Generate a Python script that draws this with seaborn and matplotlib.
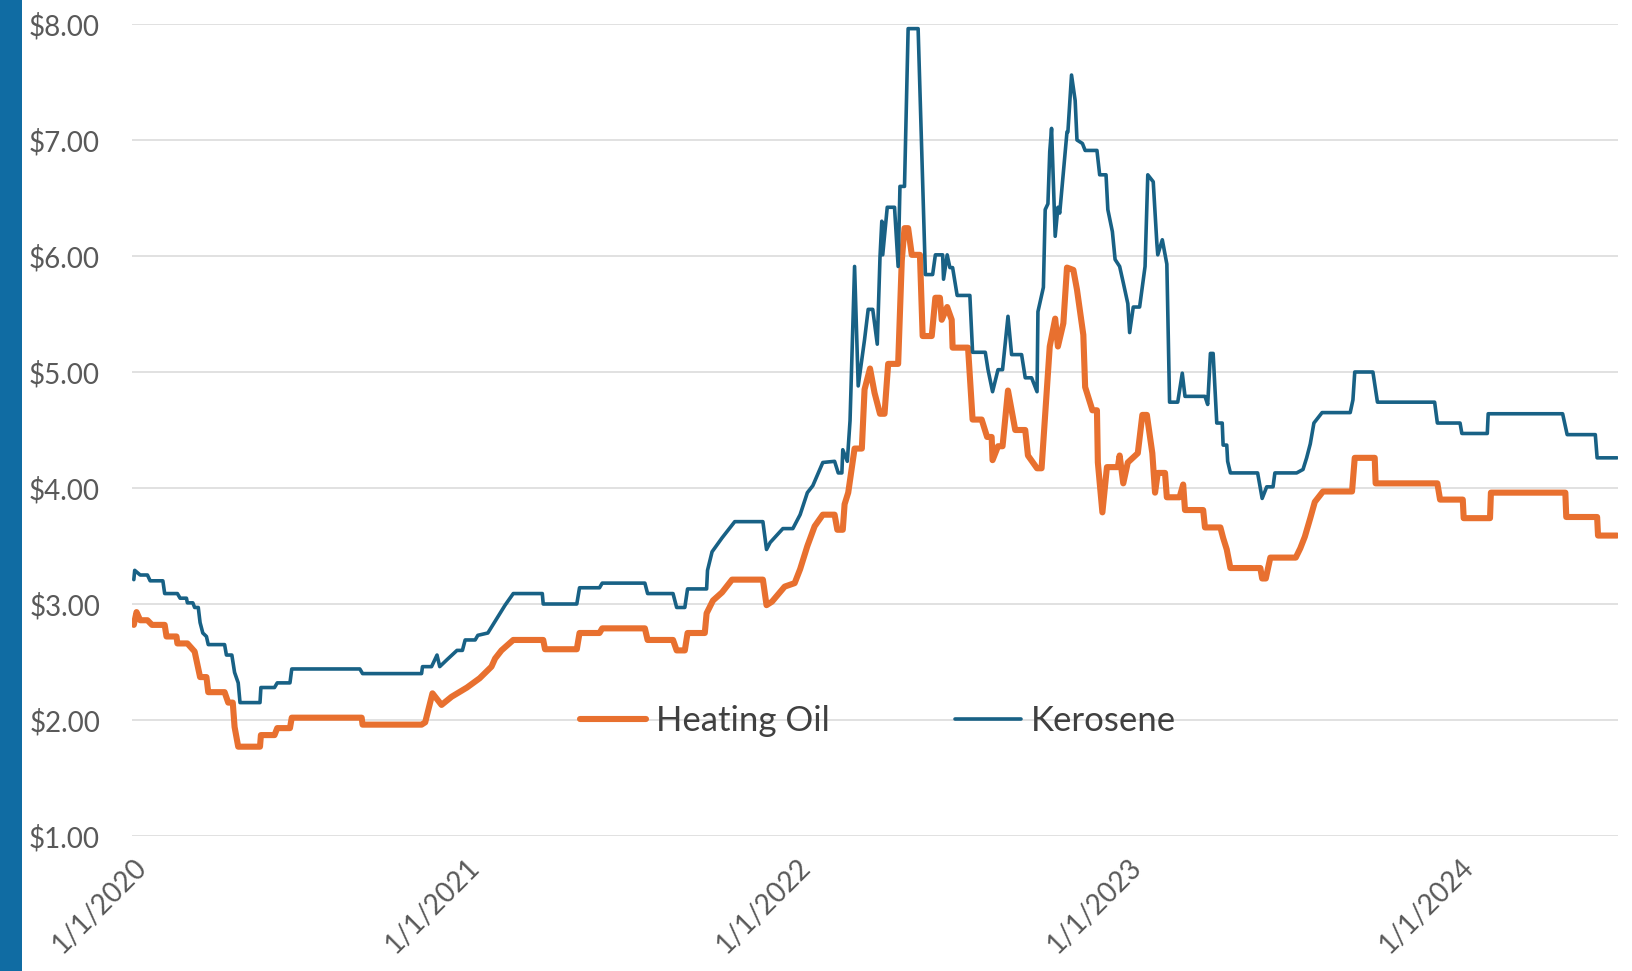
import matplotlib
matplotlib.use("Agg")
import matplotlib.pyplot as plt
import seaborn as sns
import pandas as pd
from matplotlib.patches import Rectangle

# ---------------- data ----------------
heating_oil_dates = [
    "2020-01-01", "2020-01-04", "2020-01-08", "2020-01-16", "2020-01-21", "2020-02-04", "2020-02-06", "2020-02-17",
    "2020-02-18", "2020-02-29", "2020-03-08", "2020-03-14", "2020-03-21", "2020-03-23", "2020-04-10", "2020-04-14",
    "2020-04-19", "2020-04-21", "2020-04-25", "2020-05-19", "2020-05-20", "2020-06-04", "2020-06-07", "2020-06-21",
    "2020-06-23", "2020-09-08", "2020-09-09", "2020-11-13", "2020-11-17", "2020-11-25", "2020-12-05", "2020-12-16",
    "2021-01-02", "2021-01-16", "2021-01-29", "2021-02-02", "2021-02-09", "2021-02-22", "2021-03-27", "2021-03-29",
    "2021-05-03", "2021-05-06", "2021-05-28", "2021-05-31", "2021-07-17", "2021-07-20", "2021-08-17", "2021-08-21",
    "2021-08-30", "2021-09-02", "2021-09-21", "2021-09-23", "2021-09-30", "2021-10-10", "2021-10-21", "2021-11-24",
    "2021-11-28", "2021-12-04", "2021-12-18", "2021-12-29", "2022-01-04", "2022-01-12", "2022-01-20", "2022-01-29",
    "2022-02-11", "2022-02-14", "2022-02-20", "2022-02-22", "2022-02-26", "2022-03-05", "2022-03-13", "2022-03-16",
    "2022-03-22", "2022-03-27", "2022-04-02", "2022-04-07", "2022-04-11", "2022-04-22", "2022-04-26", "2022-04-29",
    "2022-05-03", "2022-05-07", "2022-05-16", "2022-05-19", "2022-05-29", "2022-06-02", "2022-06-07", "2022-06-09",
    "2022-06-15", "2022-06-20", "2022-06-21", "2022-07-08", "2022-07-13", "2022-07-23", "2022-07-29", "2022-08-03",
    "2022-08-04", "2022-08-10", "2022-08-15", "2022-08-21", "2022-08-25", "2022-08-29", "2022-09-09", "2022-09-12",
    "2022-09-22", "2022-09-27", "2022-10-01", "2022-10-06", "2022-10-12", "2022-10-15", "2022-10-21", "2022-10-25",
    "2022-11-01", "2022-11-05", "2022-11-12", "2022-11-14", "2022-11-22", "2022-11-27", "2022-11-28", "2022-12-03",
    "2022-12-08", "2022-12-20", "2022-12-22", "2022-12-26", "2022-12-31", "2023-01-11", "2023-01-16", "2023-01-21",
    "2023-01-27", "2023-01-30", "2023-02-02", "2023-02-10", "2023-02-12", "2023-02-26", "2023-03-02", "2023-03-04",
    "2023-03-24", "2023-03-26", "2023-04-12", "2023-04-15", "2023-04-19", "2023-04-23", "2023-05-26", "2023-05-28",
    "2023-06-01", "2023-06-06", "2023-07-04", "2023-07-09", "2023-07-14", "2023-07-20", "2023-07-25", "2023-08-03",
    "2023-09-04", "2023-09-07", "2023-09-29", "2023-09-30", "2023-12-07", "2023-12-10", "2024-01-04", "2024-01-05",
    "2024-02-03", "2024-02-04", "2024-04-26", "2024-04-27", "2024-05-31", "2024-06-01", "2024-06-22",
]
heating_oil_prices = [
    2.82, 2.93, 2.86, 2.86, 2.82, 2.82, 2.72, 2.72,
    2.66, 2.66, 2.59, 2.37, 2.37, 2.24, 2.24, 2.15,
    2.15, 1.94, 1.77, 1.77, 1.87, 1.87, 1.93, 1.93,
    2.02, 2.02, 1.96, 1.96, 1.98, 2.23, 2.13, 2.20,
    2.28, 2.36, 2.46, 2.53, 2.60, 2.69, 2.69, 2.61,
    2.61, 2.75, 2.75, 2.79, 2.79, 2.69, 2.69, 2.60,
    2.60, 2.75, 2.75, 2.92, 3.03, 3.10, 3.21, 3.21,
    2.99, 3.02, 3.15, 3.18, 3.30, 3.50, 3.67, 3.77,
    3.77, 3.64, 3.64, 3.86, 3.96, 4.34, 4.34, 4.85,
    5.03, 4.82, 4.64, 4.64, 5.07, 5.07, 5.96, 6.24,
    6.24, 6.01, 6.01, 5.31, 5.31, 5.64, 5.64, 5.45,
    5.56, 5.45, 5.21, 5.21, 4.59, 4.59, 4.44, 4.44,
    4.24, 4.36, 4.36, 4.84, 4.67, 4.50, 4.50, 4.28,
    4.17, 4.17, 4.64, 5.22, 5.46, 5.22, 5.42, 5.90,
    5.88, 5.71, 5.32, 4.87, 4.67, 4.67, 4.22, 3.79,
    4.18, 4.18, 4.28, 4.04, 4.22, 4.30, 4.63, 4.63,
    4.30, 3.96, 4.13, 4.13, 3.92, 3.92, 4.03, 3.81,
    3.81, 3.66, 3.66, 3.57, 3.47, 3.31, 3.31, 3.22,
    3.22, 3.40, 3.40, 3.48, 3.58, 3.74, 3.88, 3.97,
    3.97, 4.26, 4.26, 4.04, 4.04, 3.90, 3.90, 3.74,
    3.74, 3.96, 3.96, 3.75, 3.75, 3.59, 3.59,
]

kerosene_dates = [
    "2020-01-01", "2020-01-02", "2020-01-08", "2020-01-16", "2020-01-19", "2020-02-02", "2020-02-04", "2020-02-18",
    "2020-02-21", "2020-02-28", "2020-02-29", "2020-03-06", "2020-03-08", "2020-03-12", "2020-03-14", "2020-03-17",
    "2020-03-21", "2020-03-23", "2020-04-10", "2020-04-12", "2020-04-18", "2020-04-21", "2020-04-25", "2020-04-27",
    "2020-05-19", "2020-05-20", "2020-06-04", "2020-06-07", "2020-06-21", "2020-06-23", "2020-09-06", "2020-09-09",
    "2020-11-13", "2020-11-14", "2020-11-24", "2020-11-30", "2020-12-03", "2020-12-11", "2020-12-22", "2020-12-28",
    "2020-12-31", "2021-01-11", "2021-01-14", "2021-01-25", "2021-02-05", "2021-02-13", "2021-02-22", "2021-03-26",
    "2021-03-27", "2021-05-03", "2021-05-06", "2021-05-28", "2021-05-31", "2021-07-17", "2021-07-20", "2021-08-17",
    "2021-08-21", "2021-08-30", "2021-09-02", "2021-09-23", "2021-09-24", "2021-09-29", "2021-10-10", "2021-10-24",
    "2021-11-24", "2021-11-28", "2021-12-02", "2021-12-16", "2021-12-27", "2022-01-04", "2022-01-12", "2022-01-18",
    "2022-01-23", "2022-01-29", "2022-02-11", "2022-02-15", "2022-02-19", "2022-02-20", "2022-02-25", "2022-02-28",
    "2022-03-05", "2022-03-09", "2022-03-16", "2022-03-20", "2022-03-25", "2022-03-30", "2022-04-02", "2022-04-04",
    "2022-04-05", "2022-04-10", "2022-04-18", "2022-04-22", "2022-04-24", "2022-04-29", "2022-05-03", "2022-05-14",
    "2022-05-22", "2022-05-30", "2022-06-02", "2022-06-10", "2022-06-11", "2022-06-15", "2022-06-18", "2022-06-21",
    "2022-06-26", "2022-07-10", "2022-07-13", "2022-07-27", "2022-07-30", "2022-08-04", "2022-08-10", "2022-08-15",
    "2022-08-21", "2022-08-25", "2022-09-05", "2022-09-09", "2022-09-16", "2022-09-22", "2022-09-23", "2022-09-29",
    "2022-10-01", "2022-10-04", "2022-10-06", "2022-10-08", "2022-10-12", "2022-10-15", "2022-10-17", "2022-10-25",
    "2022-10-26", "2022-10-30", "2022-11-03", "2022-11-05", "2022-11-11", "2022-11-14", "2022-11-27", "2022-11-30",
    "2022-12-07", "2022-12-09", "2022-12-14", "2022-12-17", "2022-12-22", "2022-12-26", "2022-12-31", "2023-01-02",
    "2023-01-06", "2023-01-13", "2023-01-19", "2023-01-22", "2023-01-28", "2023-02-01", "2023-02-02", "2023-02-07",
    "2023-02-12", "2023-02-15", "2023-02-24", "2023-03-01", "2023-03-04", "2023-03-26", "2023-03-29", "2023-04-01",
    "2023-04-04", "2023-04-08", "2023-04-14", "2023-04-15", "2023-04-19", "2023-04-20", "2023-04-23", "2023-05-23",
    "2023-05-28", "2023-06-02", "2023-06-09", "2023-06-11", "2023-07-05", "2023-07-12", "2023-07-16", "2023-07-20",
    "2023-07-24", "2023-08-02", "2023-09-02", "2023-09-05", "2023-09-07", "2023-09-27", "2023-10-02", "2023-12-04",
    "2023-12-07", "2024-01-01", "2024-01-03", "2024-01-31", "2024-02-01", "2024-04-23", "2024-04-28", "2024-05-29",
    "2024-05-31", "2024-06-22",
]
kerosene_prices = [
    3.21, 3.29, 3.25, 3.25, 3.20, 3.20, 3.09, 3.09,
    3.05, 3.05, 3.01, 3.01, 2.97, 2.97, 2.84, 2.75,
    2.72, 2.65, 2.65, 2.56, 2.56, 2.41, 2.32, 2.15,
    2.15, 2.28, 2.28, 2.32, 2.32, 2.44, 2.44, 2.40,
    2.40, 2.46, 2.46, 2.56, 2.46, 2.52, 2.60, 2.60,
    2.69, 2.69, 2.73, 2.75, 2.89, 2.99, 3.09, 3.09,
    3.00, 3.00, 3.14, 3.14, 3.18, 3.18, 3.09, 3.09,
    2.97, 2.97, 3.13, 3.13, 3.29, 3.45, 3.57, 3.71,
    3.71, 3.47, 3.53, 3.65, 3.65, 3.77, 3.96, 4.02,
    4.11, 4.22, 4.23, 4.13, 4.13, 4.33, 4.23, 4.58,
    5.91, 4.88, 5.28, 5.54, 5.54, 5.24, 5.99, 6.30,
    6.01, 6.42, 6.42, 5.91, 6.60, 6.60, 7.96, 7.96,
    5.84, 5.84, 6.01, 6.01, 5.80, 6.01, 5.90, 5.90,
    5.66, 5.66, 5.17, 5.17, 5.02, 4.83, 5.02, 5.02,
    5.48, 5.15, 5.15, 4.95, 4.95, 4.83, 5.52, 5.73,
    6.40, 6.45, 6.90, 7.10, 6.17, 6.42, 6.37, 7.07,
    7.07, 7.56, 7.34, 7.00, 6.97, 6.91, 6.91, 6.70,
    6.70, 6.40, 6.21, 5.97, 5.91, 5.77, 5.59, 5.34,
    5.56, 5.56, 5.91, 6.70, 6.64, 6.11, 6.01, 6.14,
    5.93, 4.74, 4.74, 4.99, 4.79, 4.79, 4.72, 5.16,
    5.16, 4.56, 4.56, 4.37, 4.37, 4.23, 4.13, 4.13,
    3.91, 4.01, 4.01, 4.13, 4.13, 4.16, 4.26, 4.38,
    4.56, 4.65, 4.65, 4.76, 5.00, 5.00, 4.74, 4.74,
    4.56, 4.56, 4.47, 4.47, 4.64, 4.64, 4.46, 4.46,
    4.26, 4.26,
]

series_names = ["Heating Oil", "Kerosene"]
y_ticks = [1, 2, 3, 4, 5, 6, 7, 8]
y_tick_labels = ["$1.00", "$2.00", "$3.00", "$4.00", "$5.00", "$6.00", "$7.00", "$8.00"]
x_ticks = ["2020-01-01", "2021-01-01", "2022-01-01", "2023-01-01", "2024-01-01"]
x_tick_labels = ["1/1/2020", "1/1/2021", "1/1/2022", "1/1/2023", "1/1/2024"]

# ---------------- styling ----------------
ORANGE = "#E8702F"
BLUE = "#186185"
GRID = "#D9D9D9"
TEXT = "#595959"

sns.set_theme(style="white")
plt.rcParams["font.family"] = ["Lato", "DejaVu Sans"]

W, H = 1633, 971
fig = plt.figure(figsize=(W / 100, H / 100), dpi=100)
fig.patch.set_facecolor("white")
ax = fig.add_axes([132 / W, 1 - 836 / H, (1618 - 132) / W, (836 - 24) / H])

ho = pd.DataFrame({"date": pd.to_datetime(heating_oil_dates), "price": heating_oil_prices})
ke = pd.DataFrame({"date": pd.to_datetime(kerosene_dates), "price": kerosene_prices})

sns.lineplot(data=ho, x="date", y="price", color=ORANGE, linewidth=4.4,
             estimator=None, sort=False, label=series_names[0], ax=ax)
sns.lineplot(data=ke, x="date", y="price", color=BLUE, linewidth=2.6,
             estimator=None, sort=False, label=series_names[1], ax=ax)

ax.set_ylim(1, 8)
ax.set_xlim(pd.Timestamp("2019-12-30"), pd.Timestamp("2024-06-23"))
ax.set_yticks(y_ticks)
ax.set_yticklabels(y_tick_labels)
ax.set_xticks(pd.to_datetime(x_ticks))
ax.set_xticklabels(x_tick_labels)
ax.set_xlabel("")
ax.set_ylabel("")

ax.grid(axis="y", color=GRID, linewidth=1.1)
ax.grid(axis="x", visible=False)
ax.set_axisbelow(True)
for s in ax.spines.values():
    s.set_visible(False)

ax.tick_params(axis="y", length=0, pad=23, labelsize=20, labelcolor=TEXT)
ax.tick_params(axis="x", length=0, pad=13, labelsize=20, labelcolor=TEXT)
plt.setp(ax.get_xticklabels(), rotation=45, ha="right", rotation_mode="anchor")

leg = ax.legend(loc="center", bbox_to_anchor=(0.502, 0.1416), ncol=2, frameon=False,
                fontsize=25, handlelength=1.9, handletextpad=0.3, columnspacing=3.6)
for t in leg.get_texts():
    t.set_color("#404040")

fig.add_artist(Rectangle((0, 0), 22 / W, 1, transform=fig.transFigure,
                         facecolor="#106CA3", edgecolor="none"))

fig.savefig("out.png", dpi=100)
